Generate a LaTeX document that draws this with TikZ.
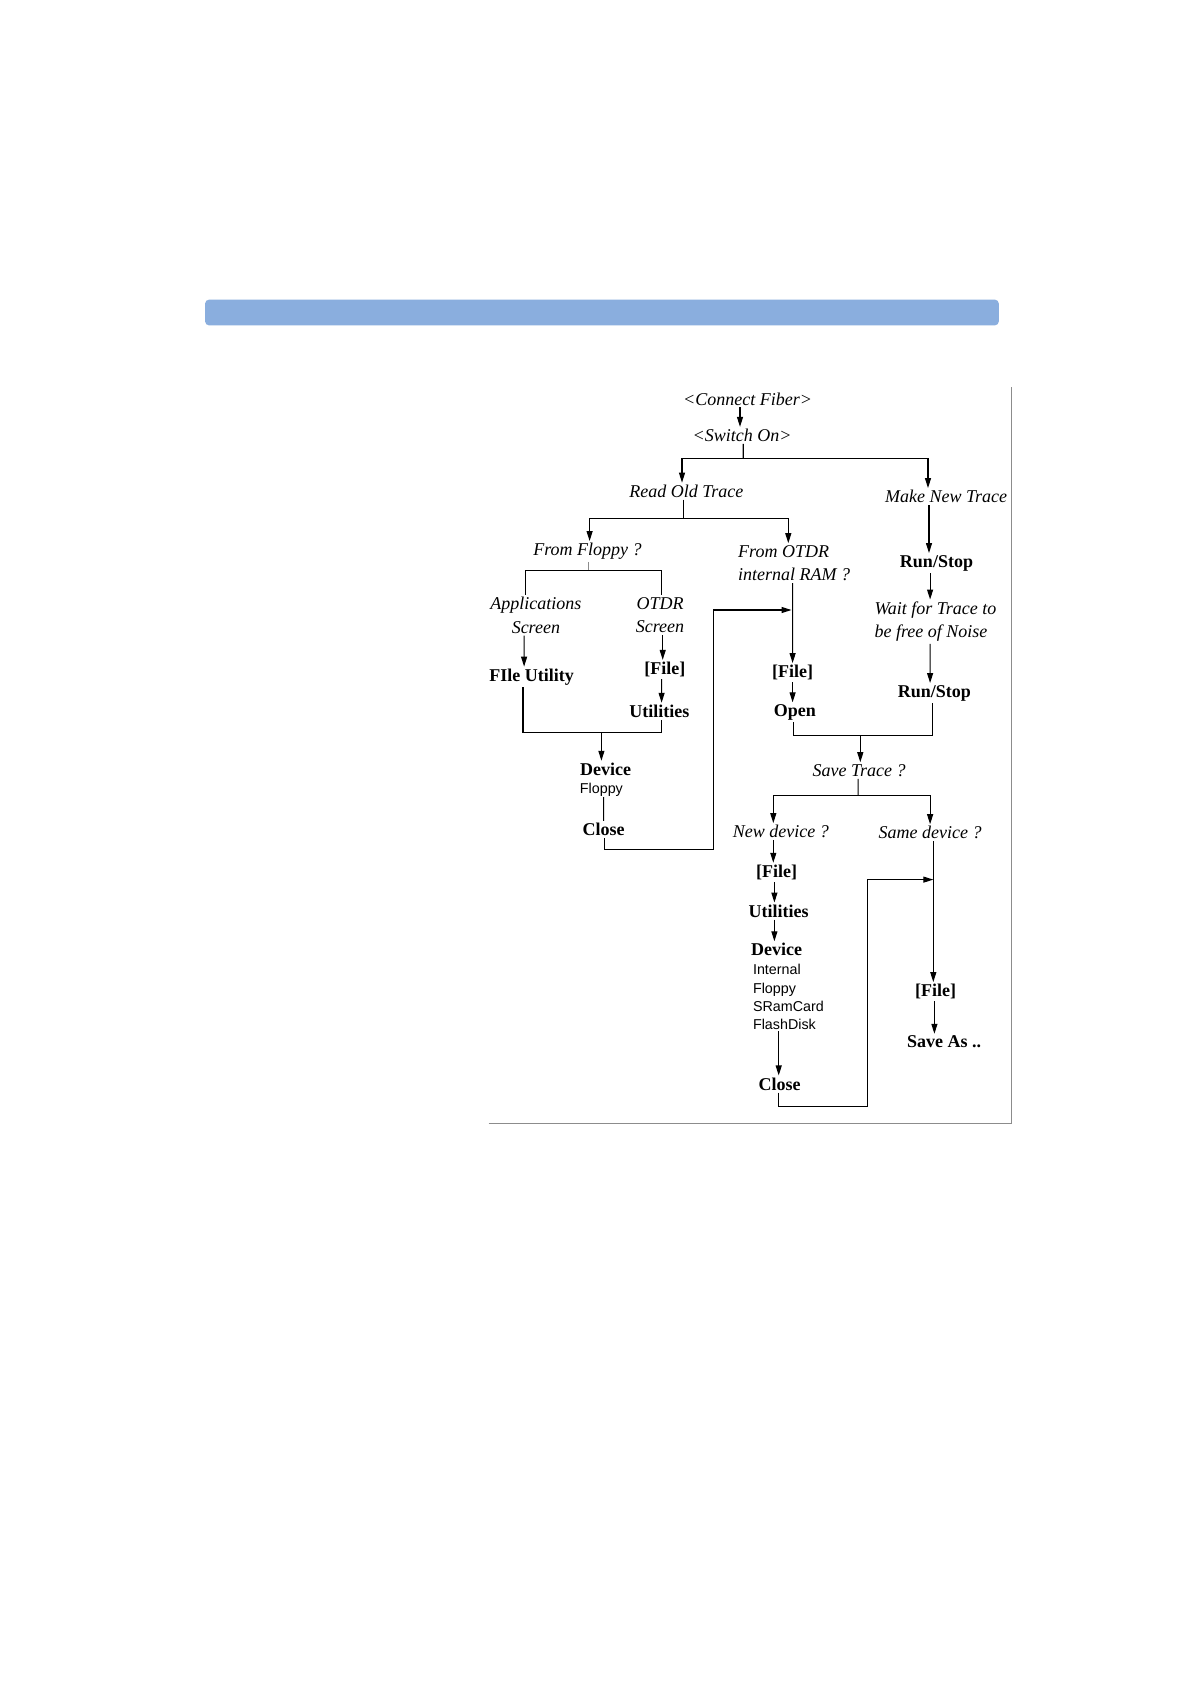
\documentclass[tikz,border=0pt]{standalone}
\usepackage{fontspec}
\setmainfont{Liberation Serif}
\setsansfont{Liberation Sans}
\usetikzlibrary{arrows.meta}
\definecolor{barblue}{HTML}{8AAEDE}
\definecolor{framegray}{HTML}{8C8C8C}
\tikzset{
  it/.style={font=\fontsize{18}{23.5}\selectfont\itshape, inner sep=2pt, align=center, yshift=-1.5pt},
  bd/.style={font=\fontsize{18}{22}\selectfont\bfseries, inner sep=2pt, yshift=-2.5pt},
  sf/.style={font=\fontsize{14.3}{18.3}\selectfont\sffamily, inner sep=1pt, align=left, yshift=-1pt},
  ln/.style={line width=1.1pt},
  arr/.style={ln, -{Triangle[length=10pt,width=6pt]}},
}
\begin{document}
\begin{tikzpicture}[x=1pt,y=-1pt]
\useasboundingbox (0,0) rectangle (1190,1684);
\fill[white] (0,0) rectangle (1190,1684);
\fill[barblue, rounded corners=4pt] (205.1,299.6) rectangle (998.8,325.4);
\draw[framegray, line width=1pt] (488.7,1123.4) -- (1011.7,1123.4) -- (1011.7,386.6);

% nodes
\node[it] (cf) at (747.5,397.4) {<Connect Fiber>};
\node[it] (so) at (742.1,433.9) {<Switch On>};
\node[it] (ro) at (686.3,489.7) {Read Old Trace};
\node[it] (mn) at (946.2,495.1) {Make New Trace};
\node[it] (ff) at (587.5,549.9) {From Floppy ?};
\node[it, align=left] (fo) at (794.2,561.7) {From OTDR\\internal RAM ?};
\node[it] (as) at (535.9,613.8) {Applications\\Screen};
\node[it] (os) at (660,613.8) {OTDR\\Screen};
\node[bd] (fu) at (531.6,674.5) {FIle Utility};
\node[bd] (f1) at (664.8,667) {[File]};
\node[bd] (u1) at (659.4,708.8) {Utilities};
\node[bd] (d1) at (605.7,766.8) {Device};
\node[sf] (fl1) at (601.4,788.3) {Floppy};
\node[bd] (c1) at (603.6,827) {Close};
\node[bd] (f2) at (792.6,670.2) {[File]};
\node[bd] (op) at (794.8,709.9) {Open};
\node[bd] (rs1) at (936.5,560.6) {Run/Stop};
\node[it, align=left] (wt) at (935.5,620.2) {Wait for Trace to\\be free of Noise};
\node[bd] (rs2) at (934.4,690.6) {Run/Stop};
\node[it] (st) at (859.2,769) {Save Trace ?};
\node[it] (nd) at (780.8,830.2) {New device ?};
\node[it] (sd) at (930.1,831.3) {Same device ?};
\node[bd] (f3) at (776.5,869.9) {[File]};
\node[bd] (u2) at (778.7,908.6) {Utilities};
\node[bd] (d2) at (776.5,947.3) {Device};
\node[sf] (dl) at (788.4,996.1) {Internal\\Floppy\\SRamCard\\FlashDisk};
\node[bd] (c2) at (779.7,1081.5) {Close};
\node[bd] (f4) at (935.5,989.2) {[File]};
\node[bd] (sa) at (944,1039.6) {Save As ..};

% connectors
\draw[arr] ([xshift=-7.5pt]cf.south) -- ([xshift=-2.1pt]so.north);
\coordinate (j1) at (743.2,458.6);
\draw[ln] ([xshift=1.1pt]so.south) -- (j1);
\draw[arr] (j1) -| ([xshift=-4.3pt]ro.north);
\draw[arr] (j1) -| ([xshift=-18.2pt]mn.north);

\coordinate (j2) at (683.1,518.7);
\draw[ln] ([xshift=-3.2pt]ro.south) -- (j2);
\draw[arr] (j2) -| ([xshift=2.1pt]ff.north);
\draw[arr] (j2) -| ([xshift=-5.9pt]fo.north);

\coordinate (j3) at (588.6,570.3);
\draw[ln, framegray] ([xshift=1.1pt]ff.south) -- (j3);
\draw[ln] (j3) -| ([xshift=-10.7pt]as.north);
\draw[ln] (j3) -| ([xshift=1.6pt]os.north);

\draw[arr] ([xshift=-11.8pt]as.south) -- ([xshift=-7.5pt]fu.north);
\draw[arr] ([xshift=2.7pt]os.south) -- ([xshift=-2.1pt]f1.north);
\draw[arr] ([xshift=-3.2pt]f1.south) -- ([xshift=2.2pt]u1.north);

\coordinate (j4) at (601.4,732.5);
\draw[ln] ([xshift=-8.6pt]fu.south) |- (j4) -| ([xshift=2.2pt]u1.south);
\draw[arr] (j4) -- ([xshift=-4.3pt]d1.north);
\draw[ln] ([xshift=2.2pt]fl1.south) -- (c1.north);

\coordinate (j5) at (713.1,849.5);
\coordinate (j6) at (791.5,610);
\draw[arr] ([xshift=1.1pt]c1.south) |- (j5) |- (j6);

\draw[arr] ([xshift=-1.6pt]fo.south) -- (f2.north);
\draw[arr] (f2.south) -- ([xshift=-2.2pt]op.north);
\draw[arr] ([xshift=-17.2pt]mn.south) -- ([xshift=-7.5pt]rs1.north);
\draw[arr] ([xshift=-6.4pt]rs1.south) -- ([xshift=-5.4pt]wt.north);
\draw[arr] ([xshift=-5.4pt]wt.south) -- ([xshift=-4.3pt]rs2.north);

\coordinate (j7) at (860.3,735.7);
\draw[ln] ([xshift=-1.1pt]op.south) |- (j7) -| ([xshift=-2.2pt]rs2.south);
\draw[arr] (j7) -- ([xshift=1.1pt]st.north);

\coordinate (j8) at (858.1,795.8);
\draw[ln] ([xshift=-1.1pt]st.south) -- (j8);
\draw[arr] (j8) -| ([xshift=-7.5pt]nd.north);
\draw[arr] (j8) -| (sd.north);

\draw[arr] ([xshift=-7.5pt]nd.south) -- ([xshift=-3.2pt]f3.north);
\draw[arr] ([xshift=-2.1pt]f3.south) -- ([xshift=-4.3pt]u2.north);
\draw[arr] ([xshift=-4.3pt]u2.south) -- ([xshift=-2.1pt]d2.north);
\draw[arr] ([xshift=-9.7pt]dl.south) -- ([xshift=-1pt]c2.north);

\coordinate (j9) at (867.8,1106.2);
\coordinate (j10) at (933.3,879.6);
\draw[arr] ([xshift=-1pt]c2.south) |- (j9) |- (j10);
\draw[arr] ([xshift=3.2pt]sd.south) -- ([xshift=-2.2pt]f4.north);
\draw[arr] ([xshift=-1.1pt]f4.south) -- ([xshift=-9.6pt]sa.north);
\end{tikzpicture}
\end{document}
